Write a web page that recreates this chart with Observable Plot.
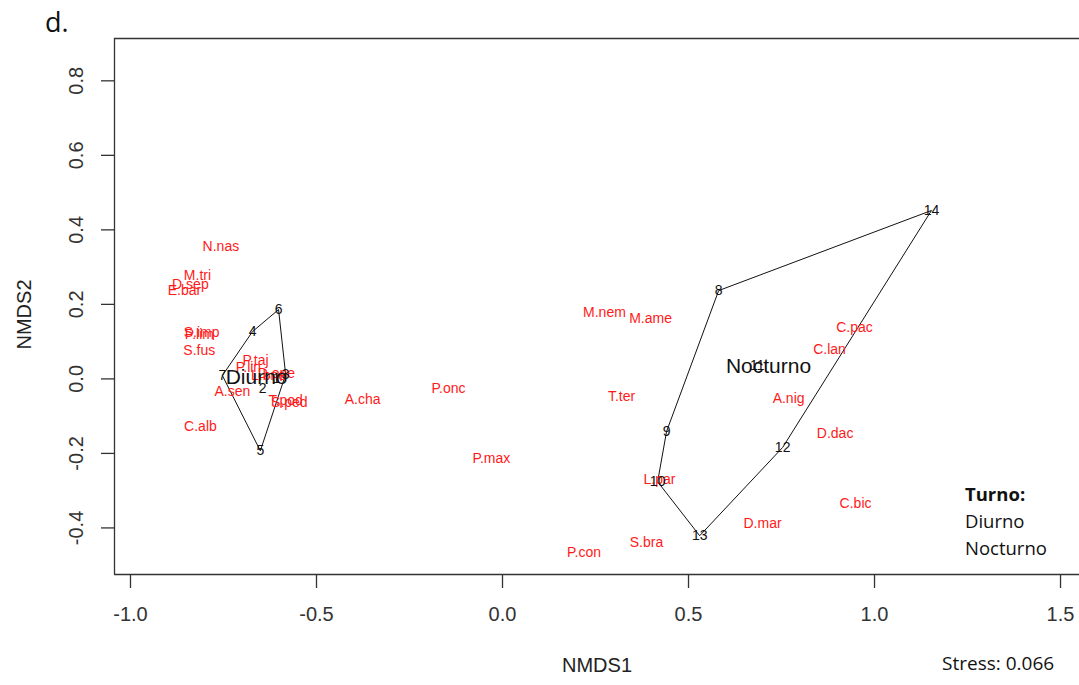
<!DOCTYPE html>
<html><head><meta charset="utf-8">
<script src="https://cdn.jsdelivr.net/npm/d3@7"></script>
<script src="https://cdn.jsdelivr.net/npm/@observablehq/plot@0.6"></script>
<style>
body{margin:0;background:#fff;}
#wrap{position:relative;width:1079px;height:685px;overflow:hidden;background:#fff;}
.ann{position:absolute;font-family:"Open Sans",sans-serif;color:#111;white-space:nowrap;}
</style></head><body>
<div id="wrap">
<div id="chart"></div>
<div class="ann" style="left:45px;top:3px;font-size:27px;">d.</div>
<div class="ann" style="left:965px;top:480px;font-size:18.5px;line-height:27px;"><b>Turno:</b><br>Diurno<br>Nocturno</div>
<div class="ann" style="left:942px;top:650px;font-size:19px;line-height:26px;">Stress: 0.066</div>
</div>
<script>
// Species scores (red labels)
const species = ["N.nas","M.tri","D.sep","E.bar","S.imp","P.lim","S.fus","P.taj","P.lin","L.bne","D.ope","A.sen","T.pod","S.ped","C.alb","A.cha","P.onc","P.max","M.nem","M.ame","T.ter","L.par","P.con","S.bra","D.mar","C.pac","C.lan","A.nig","D.dac","C.bic"];
const speciesX = [-0.757,-0.820,-0.839,-0.855,-0.809,-0.815,-0.815,-0.664,-0.683,-0.629,-0.608,-0.726,-0.583,-0.573,-0.812,-0.376,-0.145,-0.030,0.274,0.398,0.320,0.422,0.219,0.387,0.699,0.946,0.879,0.769,0.894,0.949];
const speciesY = [0.355,0.277,0.253,0.237,0.124,0.119,0.075,0.049,0.030,0.009,0.014,-0.034,-0.058,-0.064,-0.128,-0.056,-0.025,-0.214,0.177,0.163,-0.048,-0.270,-0.466,-0.439,-0.388,0.139,0.079,-0.054,-0.146,-0.335];

// Site scores (black numbers) and their group
const sites = ["1","2","3","4","5","6","7","8","9","10","11","12","13","14"];
const siteX = [-0.608,-0.645,-0.583,-0.672,-0.651,-0.602,-0.753,0.581,0.441,0.417,0.685,0.753,0.530,1.153];
const siteY = [0.001,-0.026,0.012,0.127,-0.193,0.186,0.009,0.237,-0.141,-0.276,0.036,-0.184,-0.421,0.452];
const siteTurno = ["Diurno","Diurno","Diurno","Diurno","Diurno","Diurno","Diurno","Nocturno","Nocturno","Nocturno","Nocturno","Nocturno","Nocturno","Nocturno"];

// Group centroid labels
const groups = ["Diurno","Nocturno"];
const groupX = [-0.661, 0.715];
const groupY = [0.004, 0.033];

const xTicks = [-1.0,-0.5,0.0,0.5,1.0,1.5];
const yTicks = [-0.4,-0.2,0.0,0.2,0.4,0.6,0.8];

const speciesData = species.map((s,i)=>({label:s,x:speciesX[i],y:speciesY[i]}));
const siteData = sites.map((s,i)=>({label:s,x:siteX[i],y:siteY[i],turno:siteTurno[i]}));
const groupData = groups.map((g,i)=>({label:g,x:groupX[i],y:groupY[i]}));

const xDomain = [-1.043, 1.551];
const yDomain = [-0.525, 0.9136];
const fmt = d => d.toFixed(1);
const axisColor = "#333";

const chart = Plot.plot({
  width: 1079,
  height: 685,
  marginLeft: 114,
  marginRight: 0,
  marginTop: 38,
  marginBottom: 111,
  style: {fontFamily: "'Liberation Sans', Arial, sans-serif", color: axisColor, background: "#fff"},
  x: {domain: xDomain, label: null},
  y: {domain: yDomain, label: null},
  marks: [
    Plot.ruleY([yDomain[1]], {stroke: axisColor, strokeWidth: 1.3}),
    Plot.ruleY([yDomain[0]], {stroke: axisColor, strokeWidth: 1.3}),
    Plot.ruleX([xDomain[0]], {stroke: axisColor, strokeWidth: 1.3}),
    Plot.axisX({ticks: xTicks, tickFormat: fmt, tickSize: 14, tickPadding: 18, fontSize: 20, label: null, stroke: axisColor, strokeWidth: 1.3}),
    Plot.axisY({ticks: yTicks, tickFormat: fmt, tickSize: 13, tickPadding: 19, tickRotate: -90, fontSize: 20, label: null, stroke: axisColor, strokeWidth: 1.3}),
    Plot.text(["NMDS1"], {frameAnchor: "bottom", lineAnchor: "middle", textAnchor: "middle", dy: 91, fontSize: 20, fill: "#222"}),
    Plot.text(["NMDS2"], {frameAnchor: "left", lineAnchor: "middle", textAnchor: "middle", rotate: -90, dx: -90, dy: 8, fontSize: 20, fill: "#222"}),
    Plot.hull(siteData, {x: "x", y: "y", z: "turno", stroke: "#111", strokeWidth: 1}),
    Plot.text(speciesData, {x: "x", y: "y", text: "label", fill: "#ff1a1a", fontSize: 14}),
    Plot.text(siteData, {x: "x", y: "y", text: "label", fill: "#111", fontSize: 14}),
    Plot.text(groupData, {x: "x", y: "y", text: "label", fill: "#111", fontSize: 21})
  ]
});
document.getElementById("chart").appendChild(chart);
</script>
</body></html>
